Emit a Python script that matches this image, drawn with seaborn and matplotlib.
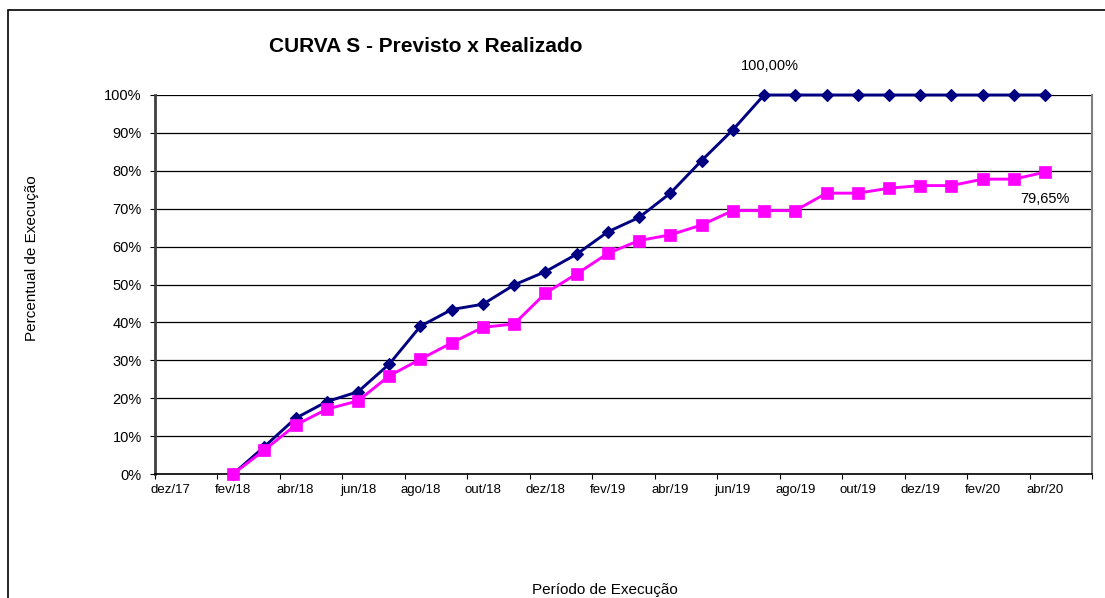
import matplotlib
matplotlib.use("Agg")
import matplotlib.pyplot as plt
from matplotlib.patches import Rectangle
import pandas as pd
import seaborn as sns

# dados da curva S (percentual acumulado)
meses = ['fev/18', 'mar/18', 'abr/18', 'mai/18', 'jun/18', 'jul/18', 'ago/18',
         'set/18', 'out/18', 'nov/18', 'dez/18', 'jan/19', 'fev/19', 'mar/19',
         'abr/19', 'mai/19', 'jun/19', 'jul/19', 'ago/19', 'set/19', 'out/19',
         'nov/19', 'dez/19', 'jan/20', 'fev/20', 'mar/20', 'abr/20']
previsto = [0.0, 7.2, 14.7, 19.1, 21.7, 29.0, 39.0, 43.4, 44.8, 49.9, 53.4,
            58.0, 63.9, 67.7, 74.1, 82.7, 90.8, 100.0, 100.0, 100.0, 100.0,
            100.0, 100.0, 100.0, 100.0, 100.0, 100.0]
realizado = [0.0, 6.3, 12.9, 17.1, 19.3, 25.9, 30.3, 34.6, 38.7, 39.6, 47.7,
             52.8, 58.2, 61.6, 63.1, 65.7, 69.5, 69.5, 69.5, 74.1, 74.1,
             75.4, 76.1, 76.1, 77.8, 77.8, 79.65]
rotulos_x = ['dez/17', 'fev/18', 'abr/18', 'jun/18', 'ago/18', 'out/18',
             'dez/18', 'fev/19', 'abr/19', 'jun/19', 'ago/19', 'out/19',
             'dez/19', 'fev/20', 'abr/20']
inicio, fim = 'dez/17', 'jun/20'

MESES_PT = ['jan', 'fev', 'mar', 'abr', 'mai', 'jun',
            'jul', 'ago', 'set', 'out', 'nov', 'dez']


def num_mes(rotulo):
    m, a = rotulo.split('/')
    return int(a) * 12 + MESES_PT.index(m)


origem = num_mes(inicio)
df = pd.DataFrame({'mes': meses, 'Previsto': previsto, 'Realizado': realizado})
# cada mes ocupa uma faixa; o ponto fica no meio dela
df['pos'] = [num_mes(m) - origem + 0.5 for m in df['mes']]

sns.set_style('white')
plt.rcParams['font.family'] = ['Liberation Sans', 'DejaVu Sans']
plt.rcParams['text.color'] = 'black'
plt.rcParams['xtick.color'] = 'black'
plt.rcParams['ytick.color'] = 'black'
plt.rcParams['axes.labelcolor'] = 'black'

fig = plt.figure(figsize=(11.05, 5.98), dpi=100)
ax = fig.add_axes([155 / 1105, 124 / 598, 937 / 1105, 379 / 598])

sns.lineplot(data=df, x='pos', y='Previsto', ax=ax, color='#000080',
             linewidth=2.1, marker='D', markersize=6, mec='#000080',
             mfc='#000080', mew=0.8, zorder=3, clip_on=False)
sns.lineplot(data=df, x='pos', y='Realizado', ax=ax, color='#FF00FF',
             linewidth=2.1, marker='s', markersize=9, mec='#FF00FF',
             mfc='#FF00FF', mew=0.5, zorder=4, clip_on=False)

ax.set_xlim(0, num_mes(fim) - origem)
ax.set_ylim(0, 100)

ax.set_xticks(range(0, num_mes(fim) - origem + 1, 2))
ax.set_xticklabels([])
ax.set_xticks([num_mes(r) - origem + 0.5 for r in rotulos_x], minor=True)
ax.set_xticklabels(rotulos_x, minor=True)
ax.tick_params(axis='x', which='major', direction='out', length=3.5,
               width=0.8, color='black', bottom=True)
ax.tick_params(axis='x', which='minor', length=0, pad=7, labelsize=9.5,
               labelcolor='black')

ax.set_yticks(range(0, 101, 10))
ax.set_yticklabels([f'{v}%' for v in range(0, 101, 10)])
ax.tick_params(axis='y', direction='out', length=3.5, width=0.8,
               color='black', left=True, pad=6, labelsize=10.5,
               labelcolor='black')

ax.grid(axis='y', color='black', linewidth=0.9)
ax.grid(axis='x', visible=False)
ax.set_axisbelow(True)

ax.spines['top'].set_visible(False)
ax.spines['left'].set_color('#404040')
ax.spines['left'].set_linewidth(2.0)
ax.spines['right'].set_color('#808080')
ax.spines['right'].set_linewidth(1.5)
ax.spines['bottom'].set_color('black')
ax.spines['bottom'].set_linewidth(1.2)

ax.set_xlabel('')
ax.set_ylabel('')
fig.text(605 / 1105, 1 - 590 / 598, 'Período de Execução', ha='center',
         va='center', fontsize=11, color='black')
fig.text(32 / 1105, 1 - 258 / 598, 'Percentual de Execução', ha='center',
         va='center', rotation=90, fontsize=11, color='black')
fig.text(426 / 1105, 1 - 46 / 598, 'CURVA S - Previsto x Realizado',
         ha='center', va='center', fontsize=15, fontweight='bold',
         color='black')

# rotulos de dados
i_prev = df['Previsto'].idxmax()
ax.annotate(f"{df.loc[i_prev, 'Previsto']:.2f}%".replace('.', ','),
            (df.loc[i_prev, 'pos'], df.loc[i_prev, 'Previsto']),
            xytext=(4, 21), textcoords='offset points', ha='center',
            va='center', fontsize=10.5, color='black', annotation_clip=False)
i_real = len(df) - 1
ax.annotate(f"{df.loc[i_real, 'Realizado']:.2f}%".replace('.', ','),
            (df.loc[i_real, 'pos'], df.loc[i_real, 'Realizado']),
            xytext=(0, -19), textcoords='offset points', ha='center',
            va='center', fontsize=10.5, color='black')

# moldura da area do grafico
fig.patches.append(Rectangle((8 / 1105, -0.2), 1.2, 0.2 + 1 - 10 / 598,
                             transform=fig.transFigure, fill=False,
                             edgecolor='black', linewidth=1.2))

fig.savefig('out.png', dpi=100)
